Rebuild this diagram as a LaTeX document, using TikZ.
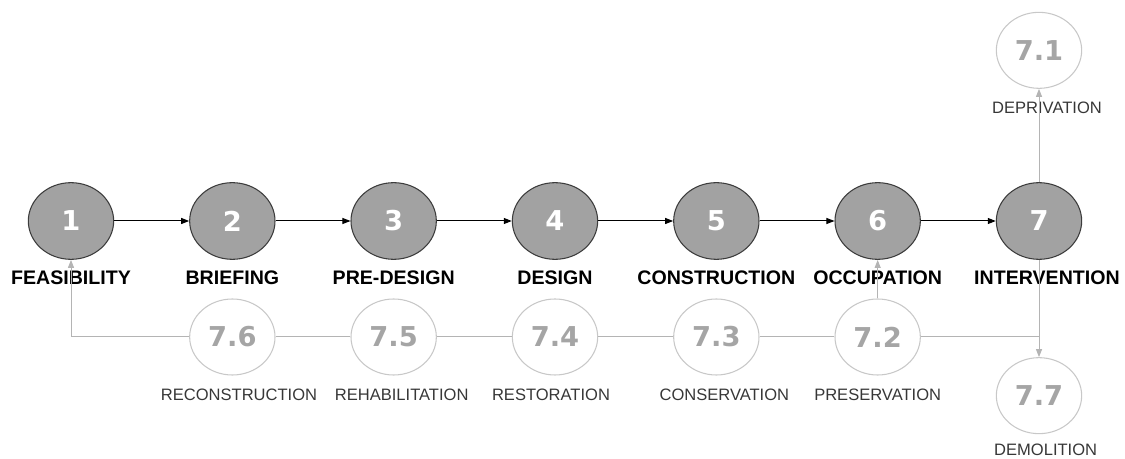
\documentclass[tikz,border=0pt]{standalone}
\usepackage{fontspec}
\setmainfont{Liberation Sans}
\newfontfamily\numfont{DejaVu Sans}
\usetikzlibrary{shapes.geometric, arrows.meta, positioning}
\definecolor{stagefill}{RGB}{162,162,162}
\definecolor{stageline}{RGB}{60,60,60}
\definecolor{optline}{RGB}{200,200,200}
\definecolor{optnum}{RGB}{165,165,165}
\definecolor{optlabel}{RGB}{55,55,55}
\definecolor{backline}{RGB}{180,180,180}

\begin{document}
\begin{tikzpicture}[x=0.75pt, y=-0.75pt, node distance = {121pt},
	stage/.style = {draw=stageline, fill=stagefill, ellipse, line width=0.8pt, minimum width=64pt, minimum height=57.5pt, inner sep=0pt, text=white, font=\numfont\bfseries\fontsize{20.5}{24}\selectfont},
	option/.style = {draw=optline, ellipse, line width=0.8pt, minimum width=64pt, minimum height=57pt, inner sep=0pt, text=optnum, font=\numfont\bfseries\fontsize{20.5}{24}\selectfont},
	stagename/.style = {inner sep=0pt, font=\bfseries\fontsize{14.7}{16}\selectfont},
	optname/.style = {inner sep=0pt, text=optlabel, font=\fontsize{12.4}{14}\selectfont},
	flow/.style = {-{Triangle[length=6pt, width=4.5pt]}, line width=0.75pt},
	back/.style = {draw=backline, line width=0.75pt},
	backflow/.style = {back, -{Triangle[length=6pt, width=4.5pt]}}]
	\useasboundingbox (0,0) rectangle (1125,459);
	% main stages
	\node[stage] (s1) at (71,221) {1};
	\node[stage] (s2) [right of=s1] {2};
	\node[stage] (s3) [right of=s2] {3};
	\node[stage] (s4) [right of=s3] {4};
	\node[stage] (s5) [right of=s4] {5};
	\node[stage] (s6) [right of=s5] {6};
	\node[stage] (s7) [right of=s6] {7};
	\node[stagename, below=8pt of s1] (l1) {FEASIBILITY};
	\node[stagename, below=8pt of s2] (l2) {BRIEFING};
	\node[stagename, below=8pt of s3] (l3) {PRE-DESIGN};
	\node[stagename, below=8pt of s4] (l4) {DESIGN};
	\node[stagename, below=8pt of s5] (l5) {CONSTRUCTION};
	\node[stagename, below=8pt of s6] (l6) {OCCUPATION};
	\node[stagename, below=8pt of s7, xshift=6pt] (l7) {INTERVENTION};
	% intervention options
	\node[option] (o76) [below of=s2, node distance=87pt] {7.6};
	\node[option] (o75) [below of=s3, node distance=87pt] {7.5};
	\node[option] (o74) [below of=s4, node distance=87pt] {7.4};
	\node[option] (o73) [below of=s5, node distance=87pt] {7.3};
	\node[option] (o72) [below of=s6, node distance=87pt] {7.2};
	\node[option] (o71) [above of=s7, node distance=128pt] {7.1};
	\node[option] (o77) [below of=s7, node distance=131pt] {7.7};
	\node[optname, below=9.5pt of o76, xshift=5pt] (m76) {RECONSTRUCTION};
	\node[optname, below=9.5pt of o75, xshift=6pt] (m75) {REHABILITATION};
	\node[optname, below=9.5pt of o74, xshift=-3pt] (m74) {RESTORATION};
	\node[optname, below=9.5pt of o73, xshift=6pt] (m73) {CONSERVATION};
	\node[optname, below=9.5pt of o72] (m72) {PRESERVATION};
	\node[optname, below=9.5pt of o71, xshift=6pt] (m71) {DEPRIVATION};
	\node[optname, below=7pt of o77, xshift=5pt] (m77) {DEMOLITION};
	% connectors
	\draw[flow] (s1) -- (s2);
	\draw[flow] (s2) -- (s3);
	\draw[flow] (s3) -- (s4);
	\draw[flow] (s4) -- (s5);
	\draw[flow] (s5) -- (s6);
	\draw[flow] (s6) -- (s7);
	\draw[backflow] (s7) -- (o71);
	\draw[backflow] (s7) -- (o77);
	\draw[back] (o72.east) -- (o72 -| s7);
	\draw[backflow] (o72) -- (s6);
	\draw[back] (o72) -- (o73);
	\draw[back] (o73) -- (o74);
	\draw[back] (o74) -- (o75);
	\draw[back] (o75) -- (o76);
	\draw[backflow] (o76.west) -| (s1.south);
\end{tikzpicture}
\end{document}
